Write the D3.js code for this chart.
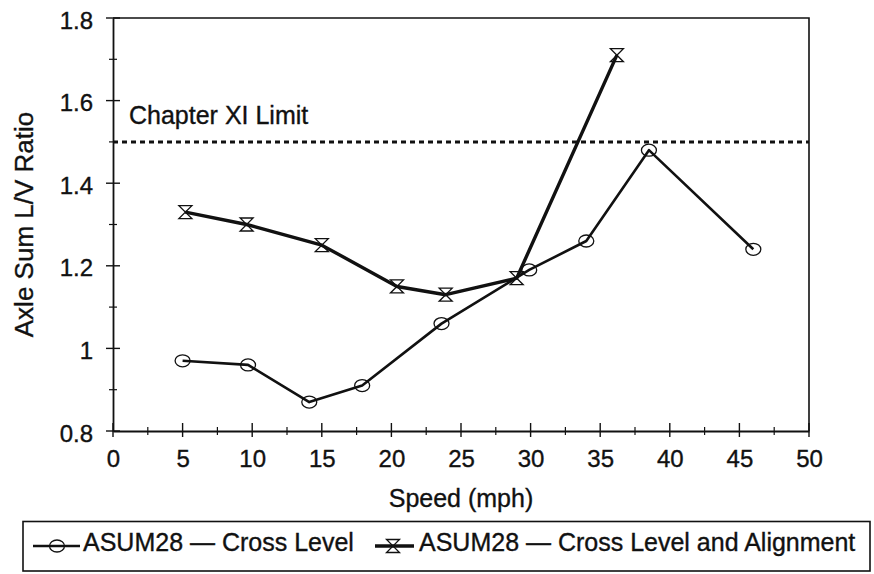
<!DOCTYPE html>
<html>
<head>
<meta charset="utf-8">
<script src="https://cdn.jsdelivr.net/npm/d3@7"></script>
<style>
  html, body { margin: 0; padding: 0; background: #fff; }
  svg { display: block; font-family: "Liberation Sans", Arial, Helvetica, sans-serif; }
  svg text { stroke: #111; stroke-width: 0.35px; }
</style>
</head>
<body>
<svg id="chart" width="874" height="574"></svg>
<script>
// ASUM28 axle-sum L/V ratio versus speed
const speedCrossLevel = [5, 9.7, 14.1, 17.9, 23.6, 29.9, 34, 38.5, 46];
const ratioCrossLevel = [0.97, 0.96, 0.87, 0.91, 1.06, 1.19, 1.26, 1.48, 1.24];
const speedCrossAlign = [5.2, 9.6, 15, 20.4, 23.9, 29, 36.2];
const ratioCrossAlign = [1.33, 1.30, 1.25, 1.15, 1.13, 1.17, 1.71];
const chapterXILimit = 1.5;
const xTickValues = [0, 5, 10, 15, 20, 25, 30, 35, 40, 45, 50];
const xMinorValues = [2.5, 7.5, 12.5, 17.5, 22.5, 27.5, 32.5, 37.5, 42.5, 47.5];
const yTickValues = [0.8, 1, 1.2, 1.4, 1.6, 1.8];
const yMinorValues = [0.9, 1.1, 1.3, 1.5, 1.7];
const seriesNames = ["ASUM28 \u2014 Cross Level", "ASUM28 \u2014 Cross Level and Alignment"];

const svg = d3.select("#chart");
const ink = "#111";
const plotL = 113, plotR = 809, plotT = 18, plotB = 431;

const x = d3.scaleLinear().domain([0, 50]).range([plotL, plotR]);
const y = d3.scaleLinear().domain([0.8, 1.8]).range([plotB, plotT]);

// frame: top and right edges
svg.append("path")
  .attr("d", `M${plotL},${plotT}H${plotR}V${plotB}`)
  .attr("fill", "none").attr("stroke", ink).attr("stroke-width", 1.6);

// x axis
const xAxis = svg.append("g").attr("transform", `translate(0,${plotB})`)
  .call(d3.axisBottom(x).tickValues(xTickValues).tickSize(0).tickPadding(19).tickFormat(d3.format("d")));
xAxis.select(".domain").attr("stroke", ink).attr("stroke-width", 1.8);
xAxis.selectAll("text").attr("font-size", 24).attr("fill", ink);
xAxis.selectAll(".tickMajor").data(xTickValues).join("line")
  .attr("x1", d => x(d)).attr("x2", d => x(d)).attr("y1", -8).attr("y2", 6)
  .attr("stroke", ink).attr("stroke-width", 1.4);
xAxis.selectAll(".tickMinor").data(xMinorValues).join("line")
  .attr("x1", d => x(d)).attr("x2", d => x(d)).attr("y1", -4).attr("y2", 4)
  .attr("stroke", ink).attr("stroke-width", 1.2);

// y axis
const yAxis = svg.append("g").attr("transform", `translate(${plotL},0)`)
  .call(d3.axisLeft(y).tickValues(yTickValues).tickSize(0).tickPadding(20).tickFormat(d3.format("~g")));
yAxis.select(".domain").attr("stroke", ink).attr("stroke-width", 1.8);
yAxis.selectAll("text").attr("font-size", 24).attr("fill", ink).attr("dy", "0.42em");
yAxis.selectAll(".tickMajor").data(yTickValues).join("line")
  .attr("x1", -7).attr("x2", 7).attr("y1", d => y(d)).attr("y2", d => y(d))
  .attr("stroke", ink).attr("stroke-width", 1.4);
yAxis.selectAll(".tickMinor").data(yMinorValues).join("line")
  .attr("x1", -4).attr("x2", 4).attr("y1", d => y(d)).attr("y2", d => y(d))
  .attr("stroke", ink).attr("stroke-width", 1.2);

// axis titles
svg.append("text").attr("x", 461).attr("y", 507)
  .attr("text-anchor", "middle").attr("font-size", 25).attr("fill", ink)
  .text("Speed (mph)");
svg.append("text")
  .attr("transform", `translate(33,${(plotT + plotB) / 2}) rotate(-90)`)
  .attr("text-anchor", "middle").attr("font-size", 26).attr("fill", ink)
  .text("Axle Sum L/V Ratio");

// Chapter XI limit
svg.append("line")
  .attr("x1", plotL).attr("x2", plotR)
  .attr("y1", y(chapterXILimit)).attr("y2", y(chapterXILimit))
  .attr("stroke", ink).attr("stroke-width", 3).attr("stroke-dasharray", "5,4");
svg.append("text").attr("x", 129).attr("y", y(chapterXILimit) - 17.5)
  .attr("font-size", 25).attr("fill", ink).text("Chapter XI Limit");

// markers
const hourglass = s => `M${-s},${-s}H${s}L${-s},${s}H${s}Z`;
function drawCircle(g, cx, cy) {
  g.append("ellipse").attr("cx", cx).attr("cy", cy).attr("rx", 7.5).attr("ry", 6)
    .attr("fill", "none").attr("stroke", ink).attr("stroke-width", 1.3);
}
function drawHourglass(g, cx, cy) {
  g.append("path").attr("d", hourglass(6.5)).attr("transform", `translate(${cx},${cy})`)
    .attr("fill", "none").attr("stroke", ink).attr("stroke-width", 1.3);
}

const line = d3.line().x(d => x(d[0])).y(d => y(d[1]));
const crossLevel = d3.zip(speedCrossLevel, ratioCrossLevel);
const crossAlign = d3.zip(speedCrossAlign, ratioCrossAlign);

const g = svg.append("g");
g.append("path").datum(crossAlign).attr("d", line)
  .attr("fill", "none").attr("stroke", ink).attr("stroke-width", 3.4).attr("stroke-linejoin", "round");
g.append("path").datum(crossLevel).attr("d", line)
  .attr("fill", "none").attr("stroke", ink).attr("stroke-width", 2.6).attr("stroke-linejoin", "round");
crossAlign.forEach(d => drawHourglass(g, x(d[0]), y(d[1])));
crossLevel.forEach(d => drawCircle(g, x(d[0]), y(d[1])));

// legend
const leg = svg.append("g");
leg.append("rect").attr("x", 23).attr("y", 521.5).attr("width", 847).attr("height", 49.5)
  .attr("fill", "none").attr("stroke", ink).attr("stroke-width", 1.6);
const ly = 546;
leg.append("line").attr("x1", 33).attr("x2", 80).attr("y1", ly).attr("y2", ly)
  .attr("stroke", ink).attr("stroke-width", 2.6);
drawCircle(leg, 57, ly);
leg.append("text").attr("x", 83).attr("y", 551)
  .attr("font-size", 25).attr("fill", ink).text(seriesNames[0]);
leg.append("line").attr("x1", 375).attr("x2", 414).attr("y1", ly).attr("y2", ly)
  .attr("stroke", ink).attr("stroke-width", 3.4);
drawHourglass(leg, 393, ly);
leg.append("text").attr("x", 419).attr("y", 551)
  .attr("font-size", 25).attr("fill", ink).text(seriesNames[1]);
</script>
</body>
</html>
